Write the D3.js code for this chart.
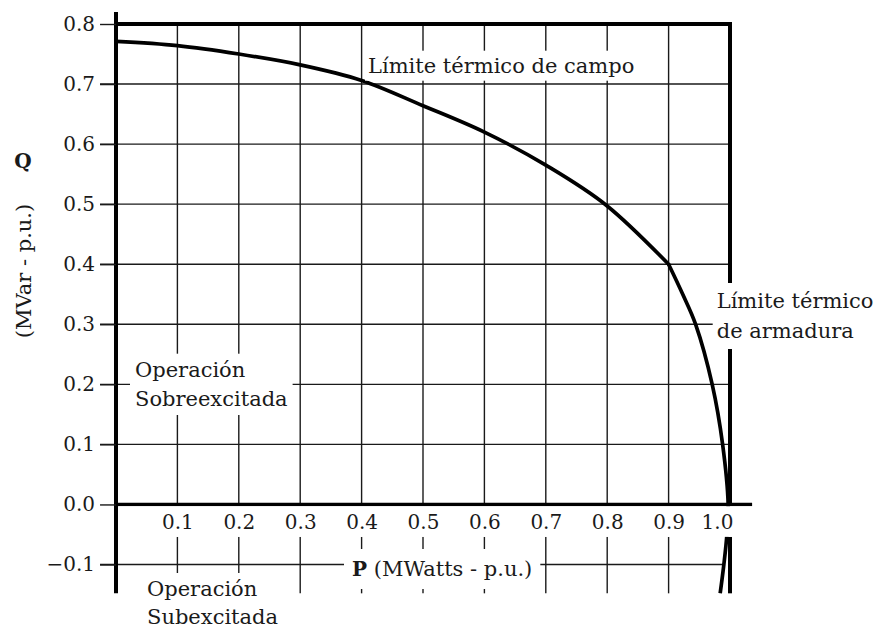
<!DOCTYPE html>
<html><head><meta charset="utf-8">
<script src="https://cdn.jsdelivr.net/npm/d3@7"></script>
<style>
html,body{margin:0;padding:0;background:#fff;}
svg{display:block;}
text{font-family:"DejaVu Serif", serif; fill:#1a1a1a;}
</style></head><body>
<svg id="chart" width="876" height="629"></svg>
<script>
// ---- data ----
const pTicks = [0.1,0.2,0.3,0.4,0.5,0.6,0.7,0.8,0.9,1.0];
const pTickLabels = ["0.1","0.2","0.3","0.4","0.5","0.6","0.7","0.8","0.9","1.0"];
const qTicks = [0.8,0.7,0.6,0.5,0.4,0.3,0.2,0.1,0.0,-0.1];
const qTickLabels = ["0.8","0.7","0.6","0.5","0.4","0.3","0.2","0.1","0.0","\u22120.1"];
const gridP = [0.1,0.2,0.3,0.4,0.5,0.6,0.7,0.8,0.9];
const gridQ = [0.7,0.6,0.5,0.4,0.3,0.2,0.1];
// field thermal limit (P, Q)
const fieldP = [0, 0.1, 0.2, 0.3, 0.4, 0.5, 0.6, 0.7, 0.8, 0.9];
const fieldQ = [0.771, 0.764, 0.750, 0.732, 0.706, 0.664, 0.620, 0.565, 0.497, 0.400];
// armature thermal limit (P, Q)
const armP = [0.900, 0.923, 0.944, 0.971, 0.988, 0.997, 0.995, 0.990, 0.984];
const armQ = [0.400, 0.350, 0.300, 0.200, 0.100, 0.000, -0.050, -0.100, -0.148];
const qTop = 0.82, qBottom = -0.148, qBandLow = -0.054;
const pAxisEnd = 1.036, pTickStart = -0.026;

// ---- scales ----
const x = d3.scaleLinear().domain([0, 1]).range([116, 730]);
const y = d3.scaleLinear().domain([-0.1, 0.8]).range([564.5, 24]);

const svg = d3.select("#chart");
const ink = "#1a1a1a";
const gridW = 1.4, thickW = 4;

function seg(x1,y1,x2,y2,w,c){
  svg.append("line").attr("x1",x1).attr("y1",y1).attr("x2",x2).attr("y2",y2)
    .attr("stroke",c||ink).attr("stroke-width",w);
}

// horizontal grid
gridQ.forEach(q => seg(x(pTickStart), y(q), x(1), y(q), gridW));
// -0.1 line ends at the armature curve
seg(x(pTickStart), y(-0.1), x(0.99), y(-0.1), gridW);
// vertical grid (upper and lower parts)
gridP.forEach(p => {
  seg(x(p), y(0.8), x(p), y(0), gridW);
  seg(x(p), y(qBandLow), x(p), y(qBottom), gridW);
});

// curves
const lineField = d3.line().x((d,i)=>x(fieldP[i])).y((d,i)=>y(fieldQ[i])).curve(d3.curveMonotoneX);
svg.append("path").attr("d", lineField(fieldP)).attr("fill","none")
  .attr("stroke","#000").attr("stroke-width",3.7).attr("stroke-linejoin","round").attr("stroke-linecap","round");
const lineArm = d3.line().x((d,i)=>x(armP[i])).y((d,i)=>y(armQ[i])).curve(d3.curveCatmullRom.alpha(0.5));
svg.append("path").attr("d", lineArm(armP)).attr("fill","none")
  .attr("stroke","#000").attr("stroke-width",3.7).attr("stroke-linejoin","round");

// thick frame lines
seg(x(0)-2, y(0.8), x(1)+2, y(0.8), 3.8, "#000");          // top
seg(x(0), y(0), x(pAxisEnd), y(0), 3.4, "#000");            // P axis
seg(x(1), y(0.8)-1.9, x(1), y(0), thickW, "#000");          // right border upper
seg(x(1), y(qBandLow), x(1), y(qBottom), thickW, "#000");   // right border lower

// white band under P axis for tick labels
svg.append("rect").attr("x", x(0)+2.2).attr("y", y(0)+1.8)
  .attr("width", 770 - x(0)).attr("height", y(qBandLow) - y(0) - 1.8).attr("fill","#fff");

// Q axis (thick) and ticks
seg(x(0), y(qTop), x(0), y(qBottom), thickW, "#000");

const yAxis = d3.axisLeft(y).tickValues(qTicks).tickFormat((d,i)=>qTickLabels[i]).tickSize(x(0)-x(pTickStart)).tickPadding(5);
const gy = svg.append("g").attr("transform", `translate(${x(0)},0)`).call(yAxis);
gy.select(".domain").remove();
gy.selectAll(".tick line").attr("stroke", ink).attr("stroke-width", gridW);
gy.selectAll(".tick text").attr("font-family","DejaVu Serif").attr("font-size",20).attr("fill",ink);

const xAxis = d3.axisBottom(x).tickValues(pTicks).tickFormat((d,i)=>pTickLabels[i]).tickSize(0).tickPadding(10);
const gx = svg.append("g").attr("transform", `translate(0,${y(0)})`).call(xAxis);
gx.select(".domain").remove();
gx.selectAll(".tick text").attr("font-family","DejaVu Serif").attr("font-size",20).attr("fill",ink)
  .attr("dx", d => d === 1.0 ? -13 : 0);

// labels with white boxes
function label(lines, tx, ty, lh, size, padX, padY){
  const g = svg.append("g");
  const t = g.append("text").attr("font-size", size);
  lines.forEach((ln,i) => {
    const ts = t.append("tspan").attr("x", tx).attr("y", ty + i*lh);
    ln.forEach(part => {
      ts.append("tspan").text(part.t).attr("font-weight", part.b ? "bold" : null)
        .attr("font-size", part.s || null);
    });
  });
  const bb = t.node().getBBox();
  g.insert("rect","text").attr("x", bb.x - padX).attr("y", bb.y - padY)
    .attr("width", bb.width + 2*padX).attr("height", bb.height + 2*padY).attr("fill","#fff");
}
label([[{t:"Límite térmico de campo"}]], 368, 72.7, 0, 21, 3, 3);
label([[{t:"Límite térmico"}],[{t:"de armadura"}]], 716.7, 308, 30, 21, 4, 6);
label([[{t:"Operación"}],[{t:"Sobreexcitada"}]], 135, 376.7, 29.3, 21, 5, 4);
label([[{t:"Operación"}],[{t:"Subexcitada"}]], 147, 596, 28, 21, 5, 4);
label([[{t:"P", b:true, s:20},{t:" (MWatts - p.u.)"}]], 352, y(-0.1)+11.5, 0, 21, 8, 8);

// Q axis title
svg.append("text").attr("x", 23).attr("y", 168).attr("text-anchor","middle")
  .attr("font-weight","bold").attr("font-size",20).text("Q");
svg.append("text").attr("transform","translate(31,271) rotate(-90)").attr("text-anchor","middle")
  .attr("font-size",21).attr("fill","#4a3a2a").text("(MVar - p.u.)");
</script>
</body></html>
